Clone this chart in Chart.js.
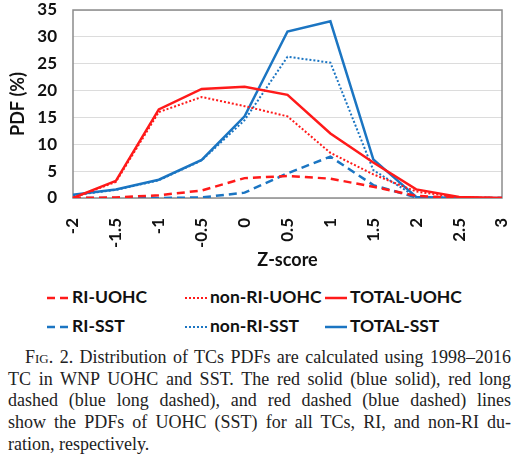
<!DOCTYPE html>
<html>
<head>
<meta charset="utf-8">
<script src="https://cdn.jsdelivr.net/npm/chart.js@4/dist/chart.umd.min.js"></script>
<style>
  html, body { margin: 0; padding: 0; background: #fff; }
  body { width: 526px; height: 464px; position: relative; overflow: hidden; }
  #wrap { position: absolute; left: 0; top: 0; width: 526px; height: 275px; }
  .leg { position: absolute; font-family: Lato, "Open Sans", sans-serif; font-weight: bold; font-size: 17.5px; color: #111; line-height: 20px; }
  .leg svg { position: absolute; }
  #caption { position: absolute; left: 8px; top: 347px; width: 503px; font-family: "Liberation Serif", "DejaVu Serif", serif; font-size: 18px; line-height: 21.7px; color: #222; }
  #caption div { text-align: justify; text-align-last: justify; }
  #caption div.first { text-indent: 17px; }
  #caption div.last { text-align-last: left; }
</style>
</head>
<body>
<div id="wrap"><canvas id="chart" width="526" height="275"></canvas></div>
<div id="legend"></div>
<div id="caption">
  <div class="first">F<span style="font-variant: small-caps;">ig</span>. 2. Distribution of TCs PDFs are calculated using 1998–2016</div>
  <div>TC in WNP UOHC and SST. The red solid (blue solid), red long</div>
  <div>dashed (blue long dashed), and red dashed (blue dashed) lines</div>
  <div>show the PDFs of UOHC (SST) for all TCs, RI, and non-RI du-</div>
  <div class="last">ration, respectively.</div>
</div>
<script>
// z-score bins
const zScores = ['-2', '-1.5', '-1', '-0.5', '0', '0.5', '1', '1.5', '2', '2.5', '3'];

// PDF (%)
const riUohc     = [0, 0.1, 0.5, 1.4, 3.7, 4.1, 3.6, 2.1, 0.4, 0, 0];
const nonRiUohc  = [0, 3.0, 16.0, 18.8, 17.1, 15.2, 8.4, 4.4, 1.2, 0.1, 0];
const totalUohc  = [0, 3.2, 16.5, 20.3, 20.7, 19.2, 12.0, 6.6, 1.6, 0.2, 0];
const riSst      = [0, 0, 0, 0.1, 1.0, 4.6, 7.7, 2.4, 0.1, 0, 0];
const nonRiSst   = [0.5, 1.5, 3.3, 7.0, 14.5, 26.3, 25.2, 5.2, 0.2, 0, 0];
const totalSst   = [0.6, 1.6, 3.4, 7.1, 15.2, 31.0, 32.9, 7.2, 0.2, 0, 0];

const RED = '#ff1a1a';
const BLUE = '#1b75c2';
const DASH = [8, 5];
const DOT = [2, 2];

function series(label, data, color, dash, width) {
    return {
        label: label,
        data: data,
        borderColor: color,
        backgroundColor: color,
        borderDash: dash,
        borderWidth: width,
        pointRadius: 0,
        tension: 0,
        fill: false
    };
}

const datasets = [
    series('RI-UOHC', riUohc, RED, DASH, 2.5),
    series('non-RI-UOHC', nonRiUohc, RED, DOT, 2),
    series('TOTAL-UOHC', totalUohc, RED, [], 2.5),
    series('RI-SST', riSst, BLUE, DASH, 2.5),
    series('non-RI-SST', nonRiSst, BLUE, DOT, 2),
    series('TOTAL-SST', totalSst, BLUE, [], 2.5)
];

// plot area frame, drawn under the lines
const frame = {
    id: 'frame',
    beforeDatasetsDraw(chart) {
        const a = chart.chartArea;
        const ctx = chart.ctx;
        ctx.save();
        ctx.strokeStyle = '#8c8c8c';
        ctx.lineWidth = 1.5;
        ctx.strokeRect(a.left, a.top, a.right - a.left, a.bottom - a.top);
        ctx.restore();
    }
};

const tickFont = { family: 'Lato, "Open Sans", sans-serif', weight: 'bold', size: 17 };

new Chart(document.querySelector('#chart'), {
    type: 'line',
    data: { labels: zScores, datasets: datasets },
    options: {
        responsive: false,
        animation: false,
        layout: { autoPadding: false, padding: { top: 10, right: 24, bottom: 4, left: 7 } },
        plugins: {
            legend: { display: false },
            tooltip: { enabled: false }
        },
        scales: {
            x: {
                offset: false,
                grid: { display: false },
                border: { display: false },
                ticks: { color: '#111', font: { ...tickFont, size: 17 }, maxRotation: 90, minRotation: 90, padding: 12, autoSkip: false },
                title: { display: true, text: 'Z-score', color: '#111', font: { ...tickFont, size: 18 }, padding: { top: 0, bottom: 0 } },
                afterFit: (scale) => { scale.height = 73; scale.paddingLeft = 0; scale.paddingRight = 0; }
            },
            y: {
                min: 0,
                max: 35,
                ticks: { stepSize: 5, color: '#111', font: { ...tickFont, size: 17 }, padding: 16, autoSkip: false },
                grid: { color: '#dcdcdc', lineWidth: 1, drawTicks: false },
                border: { display: false },
                title: { display: true, text: 'PDF (%)', color: '#111', font: { ...tickFont, size: 18 }, padding: { top: 0, bottom: 2 } },
                afterFit: (scale) => { scale.width = 66; scale.paddingTop = 0; scale.paddingBottom = 0; }
            }
        }
    },
    plugins: [frame]
});

// legend laid out in the same 3x2 grid as the figure
const legendPos = [
    { x: 47, y: 287 }, { x: 185, y: 287 }, { x: 325, y: 287 },
    { x: 47, y: 316 }, { x: 185, y: 316 }, { x: 325, y: 316 }
];
const legendEl = document.getElementById('legend');
datasets.forEach((ds, i) => {
    const p = legendPos[i];
    const item = document.createElement('div');
    item.className = 'leg';
    item.style.left = p.x + 'px';
    item.style.top = p.y + 'px';
    const lineW = 22;
    const dash = ds.borderDash.length ? ds.borderDash.join(' ') : 'none';
    item.innerHTML = '<svg width="' + lineW + '" height="20" style="left:0;top:0">' +
        '<line x1="0" y1="11" x2="' + lineW + '" y2="11" stroke="' + ds.borderColor + '" stroke-width="' + ds.borderWidth + '" stroke-dasharray="' + dash + '"/></svg>' +
        '<span style="margin-left:' + (lineW + 3) + 'px">' + ds.label + '</span>';
    legendEl.appendChild(item);
});
</script>
</body>
</html>
